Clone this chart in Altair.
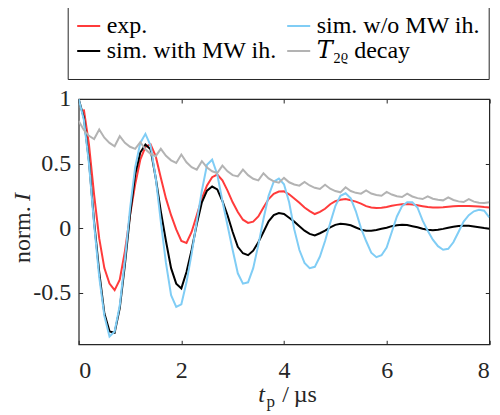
import altair as alt
import pandas as pd

# time grid (µs), sampling of the traces
t_grid = [i / 10 for i in range(81)]
t_exp = [i / 10 for i in range(1, 81)]

exp_vals = [
    0.92, 0.648, 0.26, -0.08, -0.31, -0.43, -0.48, -0.40, -0.18, 0.10,
    0.337, 0.53, 0.63, 0.648, 0.557, 0.39, 0.23, 0.10, -0.01, -0.10,
    -0.115, -0.03, 0.10, 0.23, 0.33, 0.394, 0.415, 0.37, 0.29, 0.20,
    0.125, 0.065, 0.04, 0.05, 0.09, 0.16, 0.225, 0.265, 0.283, 0.285,
    0.262, 0.23, 0.196, 0.16, 0.132, 0.109, 0.125, 0.15, 0.185, 0.208,
    0.22, 0.225, 0.216, 0.205, 0.19, 0.17, 0.16, 0.155, 0.157, 0.163,
    0.173, 0.18, 0.185, 0.187, 0.183, 0.177, 0.17, 0.163, 0.16, 0.16,
    0.162, 0.166, 0.169, 0.171, 0.172, 0.171, 0.17, 0.167, 0.163, 0.16,
]

sim_with = [
    1.0, 0.855, 0.52, 0.05, -0.34, -0.66, -0.80, -0.81, -0.62, -0.285,
    0.10, 0.415, 0.585, 0.648, 0.61, 0.39, 0.13, -0.10, -0.31, -0.43,
    -0.467, -0.34, -0.17, 0.03, 0.20, 0.29, 0.322, 0.30, 0.21, 0.10,
    -0.03, -0.145, -0.195, -0.21, -0.175, -0.11, -0.03, 0.052, 0.10, 0.116,
    0.11, 0.08, 0.05, 0.015, -0.02, -0.045, -0.057, -0.04, -0.02, 0.005,
    0.025, 0.034, 0.03, 0.022, 0.005, -0.012, -0.02, -0.021, -0.015, -0.005,
    0.003, 0.015, 0.022, 0.026, 0.024, 0.015, 0.006, -0.005, -0.013, -0.016,
    -0.013, -0.006, 0.003, 0.011, 0.016, 0.018, 0.018, 0.013, 0.007, 0.0,
    -0.005,
]

sim_without = [
    1.0, 0.84, 0.50, 0.03, -0.38, -0.68, -0.84, -0.80, -0.60, -0.25,
    0.15, 0.47, 0.66, 0.73, 0.64, 0.39, 0.05, -0.27, -0.52, -0.61,
    -0.59, -0.42, -0.20, 0.05, 0.29, 0.49, 0.53, 0.415, 0.21, 0.02,
    -0.17, -0.35, -0.43, -0.42, -0.31, -0.13, 0.07, 0.25, 0.36, 0.384,
    0.34, 0.20, -0.01, -0.17, -0.27, -0.31, -0.30, -0.22, -0.10, 0.04,
    0.17, 0.25, 0.27, 0.23, 0.13, 0.00, -0.10, -0.19, -0.225, -0.21,
    -0.15, -0.03, 0.09, 0.17, 0.20, 0.20, 0.16, 0.06, -0.02, -0.09,
    -0.14, -0.168, -0.16, -0.11, -0.03, 0.05, 0.10, 0.13, 0.142, 0.135,
    0.083,
]

t2rho = [
    0.83, 0.76, 0.715, 0.69, 0.764, 0.70, 0.66, 0.634, 0.712, 0.66,
    0.63, 0.614, 0.665, 0.61, 0.575, 0.557, 0.614, 0.56, 0.525, 0.505,
    0.57, 0.51, 0.472, 0.453, 0.518, 0.47, 0.44, 0.427, 0.484, 0.44,
    0.41, 0.40, 0.453, 0.41, 0.382, 0.37, 0.425, 0.385, 0.362, 0.352,
    0.389, 0.355, 0.338, 0.329, 0.358, 0.33, 0.312, 0.303, 0.336, 0.305,
    0.287, 0.277, 0.316, 0.287, 0.273, 0.267, 0.292, 0.268, 0.257, 0.251,
    0.28, 0.26, 0.247, 0.241, 0.267, 0.245, 0.232, 0.225, 0.246, 0.228,
    0.22, 0.215, 0.238, 0.218, 0.207, 0.202, 0.225, 0.205, 0.197, 0.194,
    0.2,
]

name_exp = "exp."
name_with = "sim. with MW ih."
name_without = "sim. w/o MW ih."
name_t2 = "\U0001D447\u2082\u1D68 decay"

# legend is filled column by column: col 1 = exp., with; col 2 = w/o, T2rho
series_names = [name_exp, name_with, name_without, name_t2]
series_colors = ["#ff3b3b", "#000000", "#80cdf5", "#b3b3b3"]

x_ticks = [0, 2, 4, 6, 8]
y_ticks = [-0.5, 0, 0.5, 1]

# axis title pieces (italic symbol, subscript, unit)
x_title_sym, x_title_sub, x_title_unit = "t", "p", "/\u2009\u00B5s"
y_title_text, y_title_sym = "norm.", "I"

FONT = "Liberation Serif, DejaVu Serif, Times New Roman, serif"
AX = "#262626"

def frame(ts, vs, name):
    return pd.DataFrame({"t": ts, "v": vs, "series": name})

x_scale = alt.Scale(domain=[0, 8], nice=False, zero=False)
y_scale = alt.Scale(domain=[-0.9, 1], nice=False, zero=False)

x_main = alt.X("t:Q", scale=x_scale, axis=alt.Axis(
    orient="bottom", values=x_ticks, offset=-4, tickSize=4, domain=False, grid=False,
    labelFontSize=24, labelPadding=14, labelFont=FONT, labelColor=AX, tickColor=AX,
    title=None))
y_main = alt.Y("v:Q", scale=y_scale, axis=alt.Axis(
    orient="left", values=y_ticks, offset=-4, tickSize=4, domain=False, grid=False,
    labelFontSize=24, labelPadding=8, labelFont=FONT, labelColor=AX, tickColor=AX,
    labelExpr="toString(datum.value)", title=None))

color = alt.Color("series:N", scale=alt.Scale(domain=series_names, range=series_colors),
    legend=alt.Legend(
        orient="none", legendX=-11, legendY=-94, columns=2,
        symbolType="stroke", symbolStrokeWidth=2, symbolSize=530,
        labelFont=FONT, labelFontSize=24, labelColor="#000", labelOffset=5,
        labelLimit=400,
        rowPadding=-4, columnPadding=5, padding=8,
        strokeColor=AX, fillColor="white",
        title=" ", titleOrient="bottom", titleFontSize=6, titlePadding=2))

def line(df):
    return alt.Chart(df).mark_line(strokeWidth=2, clip=True).encode(
        x=x_main, y=y_main, color=color)

lines = alt.layer(
    line(frame(t_exp, exp_vals, name_exp)),
    line(frame(t_grid, sim_with, name_with)),
    line(frame(t_grid, sim_without, name_without)),
    line(frame(t_grid, t2rho, name_t2)),
)

mirror = alt.Chart(frame(t_grid, t2rho, "m")).mark_line(opacity=0).encode(
    x=alt.X("t:Q", scale=x_scale, axis=alt.Axis(
        orient="top", values=x_ticks, offset=-4, tickSize=4, domain=False, grid=False,
        labels=False, title=None, tickColor=AX)),
    y=alt.Y("v:Q", scale=y_scale, axis=alt.Axis(
        orient="right", values=y_ticks, offset=-4, tickSize=4, domain=False, grid=False,
        labels=False, title=None, tickColor=AX)),
)

def title_piece(txt, x, y, size=24, style="normal", angle=0):
    return alt.Chart(pd.DataFrame({"s": [txt]})).mark_text(
        font=FONT, fontSize=size, fontStyle=style, color=AX, align="left",
        baseline="alphabetic", angle=angle,
    ).encode(text="s:N", x=alt.value(x), y=alt.value(y))

titles = [
    title_piece(x_title_sym, 179.6, 303.5, style="italic"),
    title_piece(x_title_sub, 187.8, 308.5, size=17),
    title_piece(x_title_unit, 203.5, 303.5),
    title_piece(y_title_text, -49, 164, angle=270),
    title_piece(y_title_sym, -49, 102, style="italic", angle=270),
]

chart = alt.layer(lines, mirror, *titles).resolve_axis(x="independent", y="independent").properties(
    width=410.6, height=245.3,
    autosize=alt.AutoSizeParams(type="none"),
    padding={"left": 70.7, "top": 91, "right": 2.7, "bottom": 70},
).configure(background="white", font=FONT).configure_axis(
    labelFont=FONT, titleFont=FONT
).configure_legend(labelFont=FONT, titleFont=FONT).configure_view(stroke=AX, strokeWidth=1.2)

chart.save("out.html", embed_options={"renderer": "svg", "actions": False})
